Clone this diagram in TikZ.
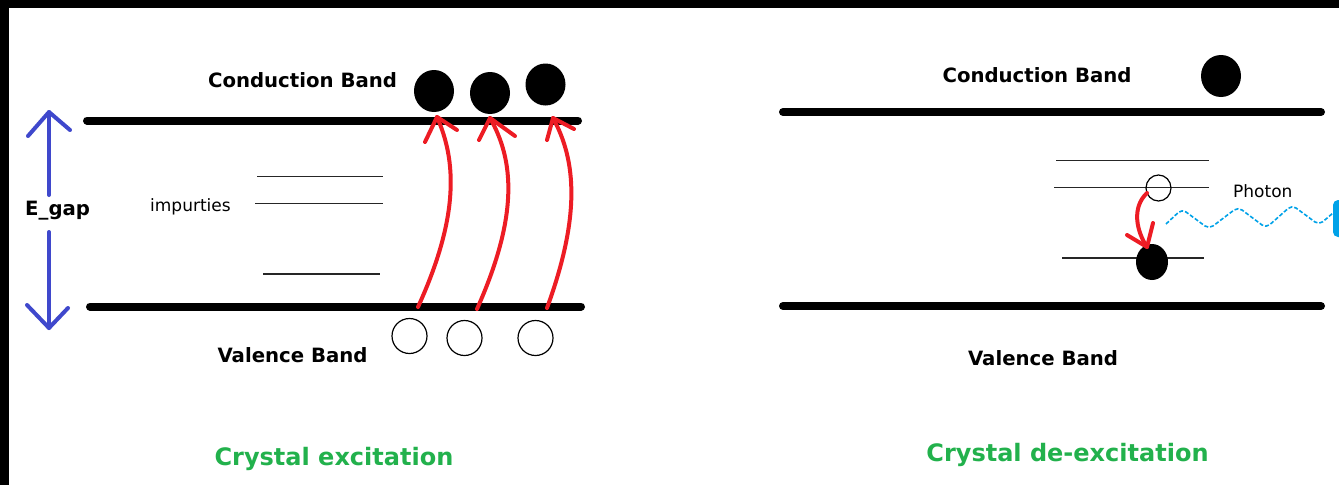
\documentclass[tikz,border=0pt]{standalone}
\usepackage{fontspec}
\setmainfont{DejaVu Sans}
\usetikzlibrary{shapes.geometric}
\definecolor{pred}{HTML}{ED1C24}
\definecolor{pblue}{HTML}{3F48CC}
\definecolor{pgreen}{HTML}{22B14C}
\definecolor{pcyan}{HTML}{00A2E8}
\tikzset{
  band/.style={line width=8pt, line cap=round},
  implevel/.style={line width=1.5pt, black!85},
  bandlabel/.style={font=\fontsize{19.7}{23}\selectfont\bfseries, inner sep=0pt, anchor=base},
  smalltext/.style={font=\fontsize{17}{20}\selectfont, inner sep=0pt, anchor=base west},
  captiontext/.style={font=\fontsize{24}{28}\selectfont\bfseries, text=pgreen, inner sep=0pt, anchor=base},
  electron/.style={ellipse, fill=black, inner sep=0pt, minimum width=40pt, minimum height=42pt},
  hole/.style={ellipse, draw=black, line width=1.2pt, inner sep=0pt, minimum width=35pt, minimum height=35pt},
  excite/.style={pred, line width=4pt, line cap=round, line join=round},
  gaparrow/.style={pblue, line width=4pt, line cap=round, line join=round},
  photon/.style={pcyan, line width=1.6pt, dash pattern=on 4pt off 2pt, rounded corners=5pt}
}
\begin{document}
\begin{tikzpicture}[x=1pt,y=-1pt]
\useasboundingbox (0,0) rectangle (1339,485);
\fill[white] (0,0) rectangle (1339,485);
\fill[black] (0,0) rectangle (1339,8);
\fill[black] (0,0) rectangle (9,485);

% ---------------- left panel: excitation ----------------
\draw[band] (87,120.5) -- (578,120.5);
\draw[band] (90,306.5) -- (581,306.5);
\draw[implevel] (257,176.5) -- (383,176.5);
\draw[implevel] (255,203.5) -- (383,203.5);
\draw[implevel] (263,274) -- (380,274);

\node[bandlabel] (cbL) at (302.5,87) {Conduction Band};
\node[bandlabel] (vbL) at (292.5,362) {Valence Band};
\node[smalltext] (imp) at (150,211.5) {impurties};
\node[bandlabel, anchor=base west] (egap) at (25,215) {E\_gap};

% energy gap arrow
\coordinate (gtop) at (49,112);
\coordinate (gbot) at (49,328);
\draw[gaparrow] (28,136) -- (gtop) -- (70,130);
\draw[gaparrow] (gtop) -- (49,195);
\draw[gaparrow] (49,232) -- (gbot);
\draw[gaparrow] (27,305) -- (gbot) -- (68,308);

% electrons and holes
\node[electron] (e1) at (434,91) {};
\node[electron] (e2) at (490,93) {};
\node[electron] (e3) at (545.5,84.5) {};
\node[hole] (h1) at (409.5,336) {};
\node[hole] (h2) at (464.5,338) {};
\node[hole] (h3) at (535.5,338) {};

% excitation arrows
\coordinate (s1) at (418,307); \coordinate (t1) at (437,117);
\coordinate (s2) at (477,309); \coordinate (t2) at (490,118);
\coordinate (s3) at (547,308); \coordinate (t3) at (553,118);
\draw[excite] (s1) .. controls (460,215) and (456,160) .. (t1);
\draw[excite] (425,142) -- (t1) -- (457,130);
\draw[excite] (s2) .. controls (519,215) and (514,160) .. (t2);
\draw[excite] (479,140) -- (t2) -- (515,136);
\draw[excite] (s3) .. controls (581,215) and (576,160) .. (t3);
\draw[excite] (547,140) -- (t3) -- (574,129);

\node[captiontext] (capL) at (334,465) {Crystal excitation};

% ---------------- right panel: de-excitation ----------------
\draw[band] (783,112) -- (1321,112);
\draw[band] (783,306) -- (1321,306);
\draw[implevel] (1056,160.5) -- (1209,160.5);
\draw[implevel] (1054,187.5) -- (1209,187.5);
\draw[implevel] (1062,258) -- (1204,258);

\node[bandlabel] (cbR) at (1037,82) {Conduction Band};
\node[bandlabel] (vbR) at (1043,365) {Valence Band};
\node[electron] (eR) at (1221,76) {};
\node[hole, minimum width=25pt, minimum height=26pt] (hR) at (1158.5,188) {};
\node[electron, minimum width=32pt, minimum height=36pt] (eR2) at (1152,262) {};

\coordinate (sR) at (1147,193);
\coordinate (tR) at (1147,247);
\draw[excite] (sR) .. controls (1131,208) and (1137,232) .. (tR);
\draw[excite] (1127,235) -- (tR) -- (1153,223);

\node[smalltext] (ph) at (1233,197) {Photon};
\draw[photon] (1166,224) -- (1182,209) -- (1209,229) -- (1238,207) -- (1266,228) -- (1292,205) -- (1319,225) -- (1333,213);
\fill[pcyan, rounded corners=5pt] (1333,200) rectangle (1352,237);

\node[captiontext] (capR) at (1067.5,461) {Crystal de-excitation};
\end{tikzpicture}
\end{document}
